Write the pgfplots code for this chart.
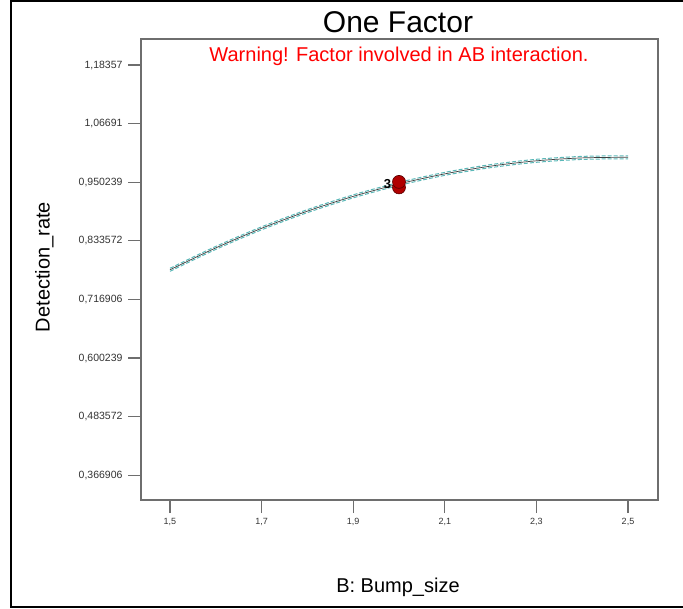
\documentclass[border=0pt]{standalone}
\usepackage{fontspec}
\setmainfont{Liberation Sans}
\usepackage{pgfplots}
\pgfplotsset{compat=1.18}
\definecolor{axgray}{HTML}{6E6E6E}
\definecolor{band}{HTML}{5BB8B8}
\definecolor{ptred}{HTML}{B00000}
\definecolor{lblgray}{HTML}{333333}
\begin{document}
\begin{tikzpicture}
\useasboundingbox (0pt,0pt) rectangle (683pt,-609pt);
\draw[line width=2.5pt] (683pt,-1.25pt) -- (11pt,-1.25pt) -- (11pt,-607pt) -- (683pt,-607pt);
\begin{axis}[
  at={(141pt,-500pt)}, anchor=south west,
  scale only axis, width=517pt, height=461pt,
  xmin=1.4367, xmax=2.5655, ymin=0.3177, ymax=1.2355,
  axis line style={axgray, line width=1.3pt},
  tick style={axgray, line width=1.2pt},
  major tick length=13pt, tick align=outside,
  xtick pos=bottom, ytick pos=left,
  xtick={1.5,1.7,1.9,2.1,2.3,2.5},
  xticklabels={{1,5},{1,7},{1,9},{2,1},{2,3},{2,5}},
  ytick={0.366906,0.483572,0.600239,0.716906,0.833572,0.950239,1.06691,1.18357},
  yticklabels={{0,366906},{0,483572},{0,600239},{0,716906},{0,833572},{0,950239},{1,06691},{1,18357}},
  xticklabel style={font=\fontsize{9}{10}\selectfont, text=lblgray, yshift=-2pt},
  yticklabel style={font=\fontsize{10.5}{12}\selectfont, text=lblgray, xshift=-2pt},
  clip=false,
]
\addplot[band, line width=1pt, dash pattern=on 4pt off 2pt, smooth] coordinates {
(1.5,0.779) (1.6,0.8226) (1.7,0.8616) (1.8,0.8958) (1.9,0.9252) (2.0,0.950)
(2.1,0.970) (2.2,0.9854) (2.3,0.996) (2.4,1.0018) (2.5,1.003)};
\addplot[band, line width=1pt, dash pattern=on 4pt off 2pt, smooth] coordinates {
(1.5,0.773) (1.6,0.8166) (1.7,0.8556) (1.8,0.8898) (1.9,0.9192) (2.0,0.944)
(2.1,0.964) (2.2,0.9794) (2.3,0.990) (2.4,0.9958) (2.5,0.997)};
\addplot[black!75, line width=0.7pt, smooth] coordinates {
(1.5,0.776) (1.6,0.8196) (1.7,0.8586) (1.8,0.8928) (1.9,0.9222) (2.0,0.947)
(2.1,0.967) (2.2,0.9824) (2.3,0.993) (2.4,0.9988) (2.5,1.000)};
\addplot[only marks, mark=*, mark size=6.5pt, mark options={fill=ptred, draw=red!35!black, line width=0.6pt}]
coordinates {(2.0,0.940) (2.0,0.951)};
\node[font=\bfseries\fontsize{13}{14}\selectfont] at (axis cs:1.975,0.946) {3};
\end{axis}
\node[anchor=base, font=\fontsize{30}{34}\selectfont] at (398pt,-33pt) {One Factor};
\node[anchor=base, text={rgb,255:red,255;green,0;blue,0}, font=\fontsize{20}{24}\selectfont] at (399pt,-62pt) {Warning! Factor involved in AB interaction.};
\node[anchor=base, rotate=90, font=\fontsize{20}{24}\selectfont] at (49.5pt,-267pt) {Detection\_rate};
\node[anchor=base, font=\fontsize{20}{24}\selectfont] at (398pt,-592pt) {B: Bump\_size};
\end{tikzpicture}
\end{document}
